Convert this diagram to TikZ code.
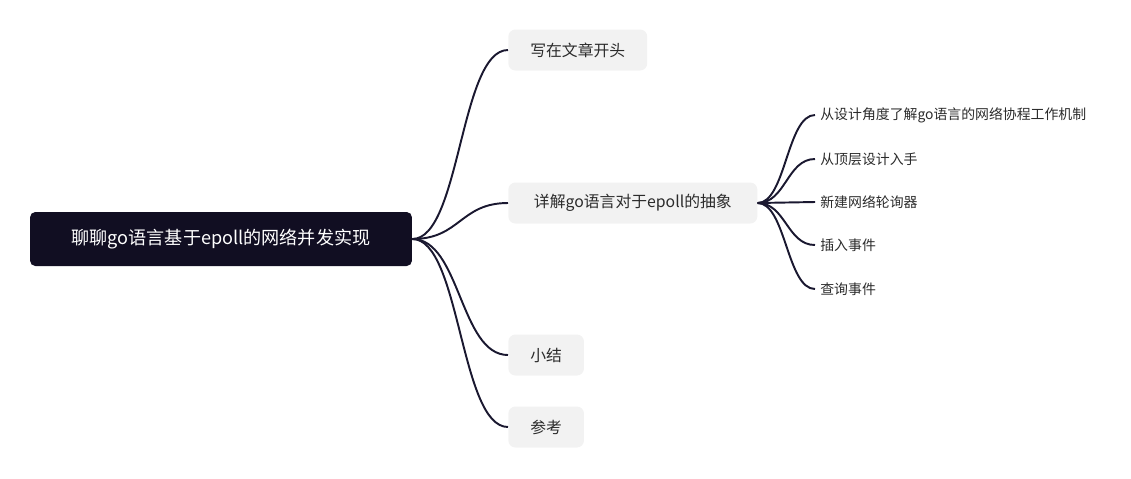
\documentclass[tikz,border=0pt]{standalone}
\usepackage{fontspec}
\setmainfont{Noto Sans CJK SC}
\usepackage{xcolor}
\usepackage{tikz}

\definecolor{rootfill}{HTML}{110E22}
\definecolor{boxfill}{HTML}{F2F2F2}
\definecolor{linecol}{HTML}{1A1830}
\definecolor{textcol}{HTML}{2B2B2B}

\tikzset{
    rootnode/.style={fill=rootfill, text=white, rounded corners=3pt, minimum width=7.64cm, minimum height=1.08cm, inner sep=0pt, font=\fontsize{10.3}{12}\selectfont},
    topicnode/.style={anchor=west, fill=boxfill, text=textcol, rounded corners=4pt, inner xsep=0.44cm, inner ysep=0pt, minimum height=0.82cm, font=\fontsize{9}{11}\selectfont},
    leafnode/.style={anchor=west, text=textcol, inner xsep=0.1cm, inner ysep=0pt, font=\fontsize{7.9}{9}\selectfont},
    branch/.style={draw=linecol, line width=1.1pt},
}

\begin{document}
\begin{tikzpicture}[x=0.02cm, y=-0.02cm]
        \useasboundingbox (0, 0) rectangle (1131, 478);

        \node[rootnode] (root) at (221, 239) {聊聊go语言基于epoll的网络并发实现};

        \node[topicnode] (head) at (508, 50) {写在文章开头};
        \node[topicnode, minimum width=4.98cm] (abstr) at (508, 203) {详解go语言对于epoll的抽象};
        \node[topicnode] (summary) at (508, 355) {小结};
        \node[topicnode] (refs) at (508, 427) {参考};

        \node[leafnode] (design) at (815, 115) {从设计角度了解go语言的网络协程工作机制};
        \node[leafnode] (toplayer) at (815, 159) {从顶层设计入手};
        \node[leafnode] (poller) at (815, 202) {新建网络轮询器};
        \node[leafnode] (insert) at (815, 245) {插入事件};
        \node[leafnode] (query) at (815, 289) {查询事件};

        \draw[branch] (root.east) .. controls +(48, 0) and +(-48, 0) .. (head.west);
        \draw[branch] (root.east) .. controls +(48, 0) and +(-48, 0) .. (abstr.west);
        \draw[branch] (root.east) .. controls +(48, 0) and +(-48, 0) .. (summary.west);
        \draw[branch] (root.east) .. controls +(48, 0) and +(-48, 0) .. (refs.west);

        \draw[branch] (abstr.east) .. controls +(28, 0) and +(-28, 0) .. (design.west);
        \draw[branch] (abstr.east) .. controls +(28, 0) and +(-28, 0) .. (toplayer.west);
        \draw[branch] (abstr.east) .. controls +(28, 0) and +(-28, 0) .. (poller.west);
        \draw[branch] (abstr.east) .. controls +(28, 0) and +(-28, 0) .. (insert.west);
        \draw[branch] (abstr.east) .. controls +(28, 0) and +(-28, 0) .. (query.west);
    \end{tikzpicture}
\end{document}
